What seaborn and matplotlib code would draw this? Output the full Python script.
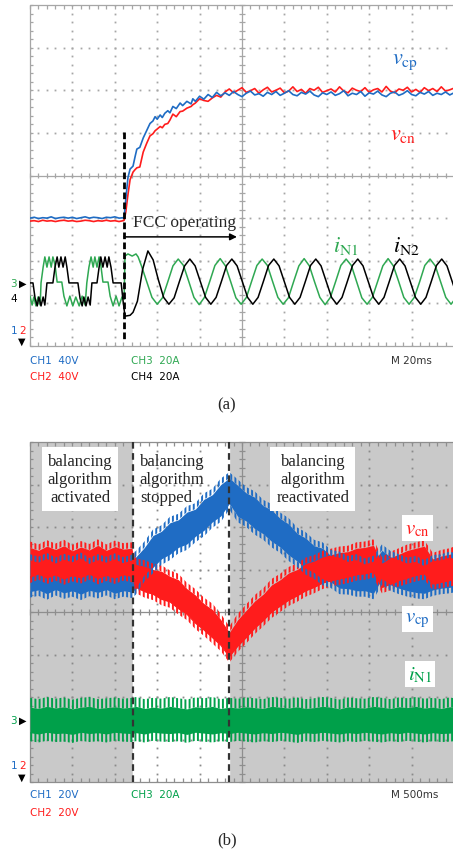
import numpy as np
import pandas as pd
import matplotlib
matplotlib.use("Agg")
import matplotlib.pyplot as plt
import seaborn as sns

# ------------------------------------------------------------------
# Data, in screen divisions (x: 0..10 div, y: -4..4 div), read off the
# oscilloscope captures.
# ------------------------------------------------------------------
# ---- panel (a): capacitor voltages ----
vcp_pre = [-1.00, -0.98, -1.01, -0.99, -1.00, -0.97, -1.01, -0.99, -0.98, -1.00, -0.98, -1.01,
           -0.99, -0.97, -1.00, -0.98, -0.99, -1.01, -0.98, -0.99, -0.97, -1.00, -0.99]
vcn_pre = [-1.07, -1.06, -1.08, -1.05, -1.07, -1.06, -1.08, -1.06, -1.05, -1.07, -1.06, -1.08,
           -1.07, -1.05, -1.06, -1.08, -1.06, -1.07, -1.05, -1.07, -1.06, -1.08, -1.06]
rise_t = [2.22, 2.26, 2.31, 2.36, 2.43, 2.48, 2.52, 2.59, 2.67, 2.75, 2.83, 2.90, 2.95, 3.00,
          3.07, 3.12, 3.18, 3.25, 3.30, 3.37, 3.45, 3.54, 3.60, 3.70, 3.80, 3.84, 3.90, 4.00,
          4.10, 4.20, 4.30, 4.40, 4.50]
vcp_rise = [-0.98, -0.55, -0.05, 0.15, 0.22, 0.45, 0.62, 0.66, 0.88, 1.05, 1.22, 1.28, 1.38,
            1.32, 1.42, 1.36, 1.46, 1.52, 1.47, 1.62, 1.57, 1.70, 1.64, 1.74, 1.68, 1.80, 1.74,
            1.86, 1.79, 1.90, 1.83, 1.95, 1.87]
vcn_rise = [-1.05, -0.85, -0.45, -0.10, 0.08, 0.14, 0.18, 0.20, 0.55, 0.75, 0.93, 0.98, 1.05,
            1.09, 1.15, 1.12, 1.20, 1.22, 1.30, 1.44, 1.38, 1.50, 1.51, 1.58, 1.62, 1.66, 1.70,
            1.80, 1.76, 1.74, 1.82, 1.88, 1.84]
vcp_steady = [1.94, 1.88, 1.97, 1.90, 1.85, 1.93, 1.98, 1.89, 1.92, 1.86,
              1.95, 1.90, 1.97, 1.88, 1.93, 1.99, 1.90, 1.87, 1.95, 1.91,
              1.98, 1.89, 1.85, 1.94, 1.90, 1.96, 1.88, 1.92, 1.99, 1.87,
              1.93, 1.90, 1.97, 1.86, 1.94, 1.91, 1.98, 1.89, 1.85, 1.93,
              1.96, 1.88, 1.92, 1.99, 1.90, 1.87, 1.95, 1.91, 1.97, 1.88,
              1.93, 1.90, 1.96, 1.89, 1.94]
vcn_steady = [1.96, 2.03, 1.94, 2.00, 2.06, 1.95, 1.99, 2.04, 1.93, 2.01,
              2.07, 1.96, 2.00, 2.05, 1.94, 1.98, 2.08, 1.97, 2.02, 1.93,
              2.04, 2.00, 2.07, 1.95, 1.99, 2.03, 1.96, 2.08, 1.98, 1.94,
              2.05, 2.00, 1.97, 2.06, 1.95, 2.01, 2.04, 1.96, 2.09, 1.98,
              1.94, 2.03, 2.00, 2.07, 1.96, 2.02, 1.95, 2.06, 1.99, 2.04,
              1.97, 2.08, 1.98, 2.01, 2.05]

# ---- panel (a): neutral currents ----
iN1_stair_t = [0.00, 0.05, 0.09, 0.14, 0.19, 0.24, 0.26, 0.31, 0.35, 0.40, 0.45, 0.50, 0.54,
               0.59, 0.64, 0.75, 0.80, 0.87, 0.94, 1.01, 1.08, 1.16, 1.23, 1.30, 1.34, 1.39,
               1.44, 1.49, 1.53, 1.58, 1.63, 1.67, 1.72, 1.84, 1.89, 1.96, 2.03, 2.10, 2.17,
               2.22, 2.24, 2.31, 2.41, 2.50, 2.55]
iN1_stair = [-2.83, -3.04, -2.85, -3.06, -2.85, -3.04, -2.52, -2.15, -1.91, -2.15, -1.91, -2.15,
             -1.91, -2.10, -2.50, -2.50, -2.83, -3.06, -2.83, -3.06, -2.85, -3.06, -2.83, -3.04,
             -2.52, -2.15, -1.91, -2.15, -1.91, -2.15, -1.91, -2.10, -2.50, -2.50, -2.83, -3.06,
             -2.83, -3.06, -2.85, -2.90, -1.89, -1.84, -1.89, -1.84, -1.91]
iN1_sine = [-2.12, -2.49, -2.86, -3.02, -2.87, -2.50, -2.12, -1.96,
            -2.11, -2.48, -2.86, -3.03, -2.86, -2.49, -2.11, -1.95,
            -2.12, -2.49, -2.87, -3.02, -2.86, -2.48, -2.11, -1.96,
            -2.11, -2.49, -2.86, -3.02, -2.87, -2.49, -2.12, -1.95,
            -2.12, -2.50, -2.86, -3.03, -2.86, -2.49, -2.11, -1.96,
            -2.11, -2.49, -2.87, -3.02, -2.86, -2.49, -2.12, -1.95,
            -2.12, -2.48, -2.86, -3.02, -2.86, -2.50, -2.11, -1.96,
            -2.12, -2.49, -2.86, -3.02, -2.86]
iN2_stair_t = [0.00, 0.07, 0.12, 0.17, 0.21, 0.26, 0.31, 0.35, 0.40, 0.54, 0.59, 0.64, 0.68,
               0.73, 0.78, 0.83, 0.87, 0.92, 1.13, 1.18, 1.23, 1.27, 1.32, 1.37, 1.42, 1.46,
               1.58, 1.63, 1.67, 1.72, 1.77, 1.82, 1.86, 1.91, 1.96, 2.15, 2.19, 2.24, 2.36, 2.43]
iN2_stair = [-2.52, -2.52, -2.88, -3.06, -2.85, -3.06, -2.85, -3.04, -2.52, -2.52, -2.15, -1.91,
             -2.15, -1.91, -2.15, -1.91, -2.15, -2.52, -2.52, -2.88, -3.06, -2.85, -3.06, -2.85,
             -3.04, -2.52, -2.52, -2.15, -1.91, -2.15, -1.91, -2.15, -1.91, -2.15, -2.52, -2.52,
             -2.90, -3.30, -3.28, -3.21]
iN2_sine = [-2.95, -2.20, -1.77, -1.98, -2.45, -2.86, -3.02, -2.87, -2.49, -2.12,
            -1.96, -2.12, -2.49, -2.86, -3.02, -2.86, -2.49, -2.11,
            -1.96, -2.12, -2.49, -2.86, -3.02, -2.86, -2.49, -2.11,
            -1.96, -2.12, -2.49, -2.86, -3.02, -2.86, -2.49, -2.11,
            -1.96, -2.12, -2.49, -2.86, -3.02, -2.86, -2.49, -2.11,
            -1.96, -2.12, -2.49, -2.86, -3.02, -2.86, -2.49, -2.11,
            -1.96, -2.12, -2.49, -2.86, -3.02, -2.86, -2.49, -2.11,
            -1.96, -2.12, -2.49, -2.86]
sine_dt = 0.12375          # one eighth of the 20 ms period, in divisions
iN1_sine_t0 = 2.629
iN2_sine_t0 = 2.533
fcc_start = 2.22

# ---- panel (b): envelopes of the noisy traces ----
tb = np.round(np.concatenate([np.linspace(0, 2.4, 13), np.linspace(2.5, 9.9, 38), [10.0]]), 3)
vcp_b_up = [1.22, 1.16, 1.25, 1.14, 1.23, 1.17, 1.26, 1.13, 1.22, 1.16, 1.24, 1.15, 1.21,
            1.30, 1.52, 1.80, 1.90, 2.10, 2.17, 2.35, 2.42, 2.65, 2.76, 3.00, 3.15,
            2.98, 2.80, 2.70, 2.50, 2.40, 2.20, 2.07, 1.85, 1.74, 1.56, 1.50,
            1.32, 1.28, 1.18, 1.22, 1.12, 1.18, 1.45, 1.30, 1.22, 1.14, 1.18, 1.08, 1.20, 1.22, 1.28, 1.25]
vcp_b_lo = [0.48, 0.52, 0.43, 0.53, 0.45, 0.50, 0.42, 0.51, 0.46, 0.53, 0.44, 0.50, 0.47,
            0.55, 0.86, 1.05, 1.25, 1.36, 1.52, 1.60, 1.78, 1.92, 2.12, 2.26, 2.55,
            2.25, 2.14, 1.96, 1.84, 1.66, 1.53, 1.34, 1.20, 1.02, 0.92, 0.77,
            0.70, 0.56, 0.55, 0.50, 0.50, 0.44, 0.78, 0.64, 0.56, 0.50, 0.46, 0.44, 0.52, 0.56, 0.58, 0.60]
vcn_b_up = [1.52, 1.45, 1.55, 1.47, 1.56, 1.44, 1.53, 1.46, 1.57, 1.45, 1.54, 1.48, 1.50,
            1.12, 1.08, 1.00, 0.96, 0.84, 0.76, 0.55, 0.40, 0.20, 0.06, -0.18, -0.48,
            -0.18, 0.04, 0.26, 0.42, 0.64, 0.76, 0.92, 1.00, 1.14, 1.20, 1.30,
            1.35, 1.40, 1.42, 1.50, 1.52, 1.57, 1.15, 1.28, 1.36, 1.45, 1.50, 1.55, 1.25, 1.32, 1.36, 1.40]
vcn_b_lo = [0.82, 0.90, 0.80, 0.88, 0.78, 0.86, 0.81, 0.90, 0.79, 0.87, 0.80, 0.88, 0.84,
            0.58, 0.48, 0.42, 0.30, 0.24, 0.08, -0.05, -0.26, -0.42, -0.60, -0.78, -1.05,
            -0.80, -0.60, -0.38, -0.20, 0.00, 0.14, 0.28, 0.38, 0.50, 0.58, 0.68,
            0.74, 0.78, 0.82, 0.88, 0.90, 0.95, 0.58, 0.65, 0.74, 0.80, 0.86, 0.90, 0.66, 0.70, 0.74, 0.76]
iN1_b_up = [-2.02, -2.05, -2.00, -2.04, -2.01, -2.06, -2.02, -2.00, -2.05, -2.03, -2.01, -2.04, -2.02,
            -2.00, -2.05, -2.02, -2.04, -2.00, -2.03, -2.06, -2.01, -2.03, -2.00, -2.05, -2.02,
            -2.04, -2.01, -2.03, -2.05, -2.00, -2.02, -2.04, -2.01, -2.05, -2.03, -2.00,
            -2.02, -2.06, -2.01, -2.03, -2.04, -2.00, -2.02, -2.05, -2.01, -2.03, -2.00, -2.04, -2.02, -2.05, -2.01, -2.03]
iN1_b_lo = [-3.04, -3.07, -3.03, -3.06, -3.05, -3.08, -3.03, -3.06, -3.04, -3.07, -3.03, -3.05, -3.06,
            -3.04, -3.07, -3.03, -3.05, -3.06, -3.04, -3.08, -3.03, -3.05, -3.07, -3.04, -3.06,
            -3.03, -3.05, -3.07, -3.04, -3.06, -3.03, -3.05, -3.08, -3.04, -3.06, -3.03,
            -3.05, -3.07, -3.04, -3.06, -3.03, -3.05, -3.07, -3.04, -3.06, -3.03, -3.05, -3.07, -3.04, -3.06, -3.05, -3.04]
stop_t = 2.43
restart_t = 4.69

# ------------------------------------------------------------------
sns.set_theme(style="white")
plt.rcParams["font.family"] = ["DejaVu Sans"]
plt.rcParams["mathtext.fontset"] = "stix"
plt.rcParams["hatch.linewidth"] = 1.4

BLUE = "#1f6cc4"
RED = "#ff1c1c"
GREEN_A = "#2fa852"
GREEN_B = "#00a04a"
SERIF = ["Liberation Serif", "DejaVu Serif"]

W, H = 453, 854
fig = plt.figure(figsize=(W / 100, H / 100), dpi=100)


def scope_axes(top, bottom, face):
    ax = fig.add_axes([30 / W, 1 - bottom / H, 424 / W, (bottom - top) / H])
    ax.set_xlim(0, 10)
    ax.set_ylim(-4, 4)
    ax.set_xticks([])
    ax.set_yticks([])
    for s in ax.spines.values():
        s.set_visible(False)
    ax.set_facecolor(face)
    return ax


def scope_grid(ax, line_c, dot_c):
    fx = np.linspace(0, 10, 51)
    fy = np.linspace(-4, 4, 41)
    for xv in [1, 2, 3, 4, 6, 7, 8, 9]:
        ax.plot(np.full(fy.size, xv), fy, ls="none", marker="s", ms=1.3, mew=0, color=dot_c, zorder=2)
    for yv in [-3, -2, -1, 1, 2, 3]:
        ax.plot(fx, np.full(fx.size, yv), ls="none", marker="s", ms=1.3, mew=0, color=dot_c, zorder=2)
    kw = dict(color=line_c, lw=0.9, zorder=2, clip_on=False)
    ax.plot([0, 10], [0, 0], **kw)
    ax.plot([5, 5], [-4, 4], **kw)
    ax.plot([0, 10], [4, 4], **kw)
    ax.plot([0, 10], [-4, -4], **kw)
    ax.plot([0, 0], [-4, 4], **kw)
    ax.vlines(fx, -0.07, 0.07, **kw)
    ax.hlines(fy, 4.94, 5.06, **kw)
    ax.vlines(fx, 3.91, 4, **kw)
    ax.vlines(fx, -4, -3.91, **kw)
    ax.hlines(fy, 0, 0.08, **kw)


def ftxt(x, y, s, **kw):
    kw.setdefault("va", "center")
    kw.setdefault("ha", "left")
    fig.text(x / W, 1 - y / H, s, **kw)


# ===================== panel (a) =====================
axA = scope_axes(6, 347, "white")
scope_grid(axA, "#a6a6a6", "#a6a6a6")

t_pre = np.linspace(0, 2.2, len(vcp_pre))
t_steady = np.linspace(4.6, 10.0, len(vcp_steady))
va_t = np.concatenate([t_pre, rise_t, t_steady])
dfa_v = pd.DataFrame({
    "t": va_t,
    "vcp": np.concatenate([vcp_pre, vcp_rise, vcp_steady]),
    "vcn": np.concatenate([vcn_pre, vcn_rise, vcn_steady]),
})
sns.lineplot(data=dfa_v, x="t", y="vcn", ax=axA, color=RED, lw=1.2, estimator=None, sort=False, zorder=4)
sns.lineplot(data=dfa_v, x="t", y="vcp", ax=axA, color=BLUE, lw=1.2, estimator=None, sort=False, zorder=4)

iN1_t = np.concatenate([iN1_stair_t, iN1_sine_t0 + sine_dt * np.arange(len(iN1_sine))])
iN2_t = np.concatenate([iN2_stair_t, iN2_sine_t0 + sine_dt * np.arange(len(iN2_sine))])
df_i1 = pd.DataFrame({"t": iN1_t, "i": np.concatenate([iN1_stair, iN1_sine])})
df_i2 = pd.DataFrame({"t": iN2_t, "i": np.concatenate([iN2_stair, iN2_sine])})
sns.lineplot(data=df_i1, x="t", y="i", ax=axA, color=GREEN_A, lw=1.1, estimator=None, sort=False, zorder=4)
sns.lineplot(data=df_i2, x="t", y="i", ax=axA, color="black", lw=1.1, estimator=None, sort=False, zorder=4)

axA.plot([fcc_start, fcc_start], [1.02, -3.84], color="black", lw=2.0, ls=(0, (2.4, 1.2)), zorder=5)
axA.annotate("", xy=(4.88, -1.44), xytext=(fcc_start, -1.44),
             arrowprops=dict(arrowstyle="-|>", color="black", lw=1.1, mutation_scale=10,
                             shrinkA=0, shrinkB=0), zorder=5)
axA.text(2.43, -1.09, "FCC operating", ha="left", va="center", family=SERIF, size=12.5, zorder=6)
axA.text(8.84, 2.69, r"$v_{\rm cp}$", color=BLUE, size=16, ha="center", va="center", zorder=6)
axA.text(8.80, 0.97, r"$v_{\rm cn}$", color=RED, size=16, ha="center", va="center", zorder=6)
axA.text(7.45, -1.63, r"$i_{\rm N1}$", color=GREEN_A, size=16, ha="center", va="center", zorder=6)
axA.text(8.87, -1.63, r"$i_{\rm N2}$", color="black", size=16, ha="center", va="center", zorder=6)
axA.set_xlabel("")
axA.set_ylabel("")

# channel markers & readouts (a)
ftxt(10, 284, "3", color=GREEN_A, size=7.5)
ftxt(19, 284, "\u25B6", color="black", size=7)
ftxt(10, 299, "4", color="black", size=7.5)
ftxt(11, 331, "1", color=BLUE, size=7.5)
ftxt(19, 331, "2", color=RED, size=7.5)
ftxt(18, 342, "\u25BC", color="black", size=7)
ftxt(30, 361, "CH1  40V", color=BLUE, size=7.5)
ftxt(30, 377, "CH2  40V", color=RED, size=7.5)
ftxt(131, 361, "CH3  20A", color=GREEN_A, size=7.5)
ftxt(131, 377, "CH4  20A", color="black", size=7.5)
ftxt(391, 361, "M 20ms", color="#333333", size=7.5)
ftxt(227, 405, "(a)", ha="center", family=SERIF, size=12)

# ===================== panel (b) =====================
axB = scope_axes(443, 783, "#c9c9c9")
axB.axvspan(stop_t, restart_t, color="white", zorder=1)
scope_grid(axB, "#8e8e8e", "#8a8a8a")

dfb = pd.DataFrame({"t": tb, "cp_up": vcp_b_up, "cp_lo": vcp_b_lo,
                    "cn_up": vcn_b_up, "cn_lo": vcn_b_lo,
                    "n1_up": iN1_b_up, "n1_lo": iN1_b_lo})
# solid cores of the switching-noise bands
axB.fill_between(dfb["t"], dfb["cp_lo"], dfb["cp_up"], color=BLUE, lw=0, zorder=3)
axB.fill_between(dfb["t"], dfb["cn_lo"], dfb["cn_up"], color=RED, lw=0, zorder=3)
sns.lineplot(data=dfb, x="t", y="cn_lo", ax=axB, color=RED, lw=0.8, estimator=None, zorder=3)
# spiky fringes (texture only) on both edges of each band
fr = 0.14
for up, lo, c in (("cn_up", "cn_lo", RED), ("cp_up", "cp_lo", BLUE)):
    axB.fill_between(dfb["t"], dfb[up], dfb[up] + fr, facecolor="none", edgecolor=c,
                     hatch="||||", lw=0, zorder=3.5)
    axB.fill_between(dfb["t"], dfb[lo] - fr, dfb[lo], facecolor="none", edgecolor=c,
                     hatch="||||", lw=0, zorder=3.5)
# neutral current band: solid core with comb-like edges
axB.fill_between(dfb["t"], dfb["n1_lo"] + 0.2, dfb["n1_up"] - 0.22, color=GREEN_B, lw=0, zorder=3)
axB.fill_between(dfb["t"], dfb["n1_up"] - 0.23, dfb["n1_up"], facecolor="none", edgecolor=GREEN_B,
                 hatch="||||", lw=0, zorder=3)
axB.fill_between(dfb["t"], dfb["n1_lo"], dfb["n1_lo"] + 0.21, facecolor="none", edgecolor=GREEN_B,
                 hatch="||||", lw=0, zorder=3)

for xv in (stop_t, restart_t):
    axB.plot([xv, xv], [-4, 4], color="#333333", lw=1.6, ls=(0, (3, 2)), zorder=5, clip_on=False)

box = dict(boxstyle="square,pad=0.35", fc="white", ec="none")
axB.text(1.18, 3.13, "balancing\nalgorithm\nactivated", ha="center", va="center",
         family=SERIF, size=12, bbox=box, zorder=6)
axB.text(2.59, 3.13, "balancing\nalgorithm\nstopped", ha="left", va="center", ma="left",
         family=SERIF, size=12, zorder=6)
axB.text(6.67, 3.13, "balancing\nalgorithm\nreactivated", ha="center", va="center",
         family=SERIF, size=12, bbox=box, zorder=6)
sbox = dict(boxstyle="square,pad=0.15", fc="white", ec="none")
axB.text(9.14, 1.98, r"$v_{\rm cn}$", color=RED, size=15, ha="center", va="center", bbox=sbox, zorder=6)
axB.text(9.14, -0.16, r"$v_{\rm cp}$", color=BLUE, size=15, ha="center", va="center", bbox=sbox, zorder=6)
axB.text(9.20, -1.45, r"$i_{\rm N1}$", color=GREEN_B, size=15, ha="center", va="center", bbox=sbox, zorder=6)
axB.set_xlabel("")
axB.set_ylabel("")

ftxt(10, 721, "3", color=GREEN_B, size=7.5)
ftxt(19, 721, "\u25B6", color="black", size=7)
ftxt(11, 766, "1", color=BLUE, size=7.5)
ftxt(19, 766, "2", color=RED, size=7.5)
ftxt(18, 778, "\u25BC", color="black", size=7)
ftxt(30, 795, "CH1  20V", color=BLUE, size=7.5)
ftxt(30, 813, "CH2  20V", color=RED, size=7.5)
ftxt(131, 795, "CH3  20A", color=GREEN_B, size=7.5)
ftxt(391, 795, "M 500ms", color="#333333", size=7.5)
ftxt(227, 840, "(b)", ha="center", family=SERIF, size=12)

fig.savefig("out.png", dpi=100)
